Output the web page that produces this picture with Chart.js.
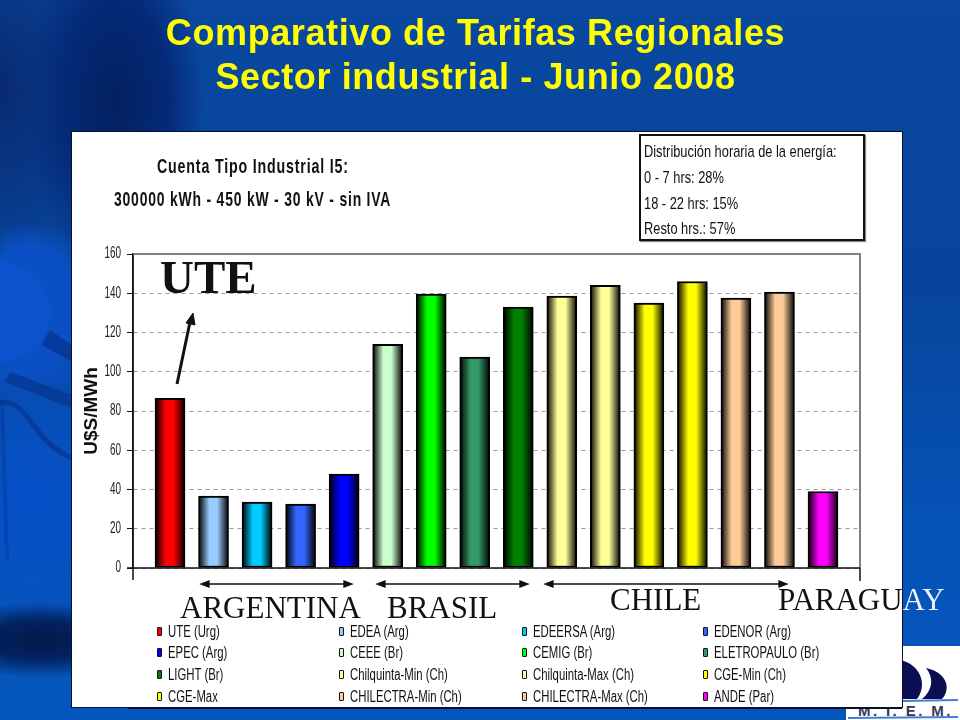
<!DOCTYPE html>
<html lang="es">
<head>
<meta charset="utf-8">
<title>Comparativo de Tarifas Regionales</title>
<script src="https://cdn.jsdelivr.net/npm/chart.js@4/dist/chart.umd.min.js"></script>
<style>
    html, body { margin: 0; padding: 0; }
    body { width: 960px; height: 720px; overflow: hidden; position: relative; background-color: #0a4aa6;
        background-image:
            radial-gradient(ellipse 70px 90px at 30px 310px, #0a4fc4 0%, #0a4fc4 70%, rgba(10,79,196,0) 100%),
            radial-gradient(ellipse 110px 38px at 40px 640px, #031a4a 0%, #03225f 50%, rgba(3,34,95,0) 100%),
            radial-gradient(ellipse 90px 170px at 115px 100px, #03215f 0%, #042a78 60%, rgba(4,42,120,0) 100%),
            radial-gradient(ellipse 150px 160px at 30px 500px, #0650c8 0%, rgba(6,80,200,0) 100%),
            radial-gradient(ellipse 120px 200px at 0px 90px, #082a70 0%, rgba(8,42,112,0) 100%),
            linear-gradient(180deg, #0a48a0 0%, #07459c 40%, #0554b8 75%, #0556bc 100%);
    }
    #decor { position: absolute; left: 0; top: 0; }
    #panel { position: absolute; left: 71px; top: 131px; width: 830px; height: 575px; background: #fff; border: 1px solid #04102c; }
    #panelBase { position: absolute; left: 128px; top: 705px; width: 774px; height: 3px; background: #fff; border-bottom: 1px solid #04102c; }
    #chartCanvas { position: absolute; left: 0; top: 0; }
    #overlay { position: absolute; left: 0; top: 0; }
    .titulo { position: absolute; left: 0; width: 951px; text-align: center; color: #ffff00;
        font: bold 36px "Liberation Sans", Arial, sans-serif; letter-spacing: 0.6px; white-space: nowrap; }
    .sub { position: absolute; font: bold 21px "Liberation Sans", sans-serif; color: #111; white-space: nowrap; letter-spacing: 1.2px; transform-origin: left center; }
    #caja { position: absolute; left: 639px; top: 134px; width: 222px; height: 103px; border: 2px solid #111; background: #fff; box-shadow: 1px 1px 1px #888; }
    #caja div { position: absolute; left: 3px; font: 17px "Liberation Sans", sans-serif; color: #111; white-space: nowrap; transform: scaleX(0.755); transform-origin: left center; }
    .serif { position: absolute; font-family: "Liberation Serif", "Times New Roman", serif; color: #111; white-space: nowrap; line-height: 1; }
    .leyenda { position: absolute; font: 16px "Liberation Sans", sans-serif; color: #111; white-space: nowrap; line-height: 16px; transform: scaleX(0.71); transform-origin: left center; }
    .muestra { position: absolute; width: 3px; height: 7px; border: 1.5px solid #111; border-radius: 1px; }
</style>
</head>
<body>
<svg id="decor" width="960" height="720">
    <!-- sol de fondo, a la izquierda -->
    <circle cx="0" cy="312" r="50" fill="#0b55d0" opacity="0.7"/>
    <path d="M50 330 L72 345 L72 362 L42 345 Z" fill="#06297c" opacity="0.55"/>
    <path d="M10 372 L72 395 L72 408 L5 382 Z" fill="#06297c" opacity="0.5"/>
    <path d="M0 402 C30 400 30 440 72 458" fill="none" stroke="#06297c" stroke-width="5" opacity="0.5"/>
    <path d="M48 270 L72 262 L72 290 L50 296 Z" fill="#0a4fc4" opacity="0.7"/>
    <path d="M2 400 L7 560" fill="none" stroke="#06318f" stroke-width="4" opacity="0.35"/>
    <!-- logo M.I.E.M. -->
    <rect x="846" y="646" width="114" height="74" fill="#fff"/>
    <path d="M900 660 C920 664 928 684 917 699 L900 699 Z" fill="#0b0f52"/>
    <path d="M926 668 C946 672 952 688 942 699 L922 699 C933 690 934 678 926 668 Z" fill="#0b0f52"/>
    <path d="M902 701 L958 700" stroke="#3f7fd8" stroke-width="2"/>
    <text x="858" y="716" font-family="Liberation Sans" font-weight="bold" font-size="15" letter-spacing="2.4" fill="#333a55">M. I. E. M.</text>
    <path d="M848 718 L958 717" stroke="#3f7fd8" stroke-width="2"/>
</svg>
<div id="panelBase"></div>
<div id="panel"></div>
<canvas id="chartCanvas" width="960" height="720"></canvas>
<div id="overlay"></div>

<script>
// Datos
const categorias = ['UTE (Urg)', 'EDEA (Arg)', 'EDEERSA (Arg)', 'EDENOR (Arg)', 'EPEC (Arg)', 'CEEE (Br)', 'CEMIG (Br)', 'ELETROPAULO (Br)',
    'LIGHT (Br)', 'Chilquinta-Min (Ch)', 'Chilquinta-Max (Ch)', 'CGE-Min (Ch)', 'CGE-Max', 'CHILECTRA-Min (Ch)', 'CHILECTRA-Max (Ch)', 'ANDE (Par)'];
const tarifas = [86.4, 36.7, 33.6, 32.6, 47.9, 114, 139.6, 107.5, 133, 138.6, 144, 135, 146, 137.6, 140.6, 39];
const colores = ['#ff0000', '#99ccff', '#00ccff', '#3366ff', '#0000ff', '#ccffcc', '#00ff00', '#339966',
    '#008000', '#ffff99', '#ffff99', '#ffff00', '#ffff00', '#ffcc99', '#ffcc99', '#ff00ff'];
const yTicks = [0, 20, 40, 60, 80, 100, 120, 140, 160];
const titulos = ['Comparativo de Tarifas Regionales', 'Sector industrial - Junio 2008'];
const cuenta = ['Cuenta Tipo Industrial I5:', '300000 kWh - 450 kW - 30 kV - sin IVA'];
const distribucion = ['Distribución horaria de la energía:', '0 - 7 hrs: 28%', '18 - 22 hrs: 15%', 'Resto hrs.: 57%'];
const anchoBarra = 30;

function gradienteBarra(ctx) {
    const chart = ctx.chart;
    const c = colores[ctx.dataIndex];
    const cx = chart.scales.x ? chart.scales.x.getPixelForValue(ctx.dataIndex) : NaN;
    if (!Number.isFinite(cx)) return c; // todavia sin layout
    const g = chart.ctx.createLinearGradient(cx - anchoBarra / 2, 0, cx + anchoBarra / 2, 0);
    g.addColorStop(0, '#000');
    g.addColorStop(0.36, c);
    g.addColorStop(0.62, c);
    g.addColorStop(1, '#000');
    return g;
}

// Ejes: marco gris arriba y a la derecha, base negra con marcas en los extremos
const marcoPlugin = {
    id: 'marco',
    afterDatasetsDraw(chart) {
        const { ctx, chartArea: a } = chart;
        ctx.save();
        ctx.strokeStyle = '#808080';
        ctx.lineWidth = 2;
        ctx.beginPath();
        ctx.moveTo(a.left, a.top);
        ctx.lineTo(a.right, a.top);
        ctx.lineTo(a.right, a.bottom);
        ctx.stroke();
        ctx.strokeStyle = '#111';
        ctx.lineWidth = 1.5;
        ctx.beginPath();
        ctx.moveTo(a.left - 6, a.bottom);
        ctx.lineTo(a.right, a.bottom);
        ctx.moveTo(a.left, a.top);
        ctx.lineTo(a.left, a.bottom + 12);
        ctx.moveTo(a.right, a.bottom);
        ctx.lineTo(a.right, a.bottom + 13);
        ctx.stroke();
        ctx.restore();
    }
};

// Etiquetas del eje Y comprimidas (no hay fuente estrecha instalada)
const ticksPlugin = {
    id: 'ticksEstrechos',
    afterDraw(chart) {
        const { ctx, scales: { y } } = chart;
        yTicks.forEach(v => {
            ctx.save();
            ctx.translate(121, y.getPixelForValue(v));
            ctx.scale(0.62, 1);
            ctx.font = '16px "Liberation Sans"';
            ctx.fillStyle = '#222';
            ctx.textAlign = 'right';
            ctx.textBaseline = 'middle';
            ctx.fillText(String(v), 0, 0);
            ctx.restore();
        });
    }
};

new Chart(document.getElementById('chartCanvas'), {
    type: 'bar',
    data: {
        datasets: [{
            label: 'U$S/MWh',
            data: tarifas.map((v, i) => ({ x: i, y: v })),
            backgroundColor: gradienteBarra,
            borderColor: '#000',
            borderWidth: 2,
            borderSkipped: false,
            barThickness: anchoBarra
        }]
    },
    options: {
        responsive: false,
        animation: false,
        layout: { padding: { left: 80, top: 254, right: 100, bottom: 152 } },
        plugins: { legend: { display: false }, tooltip: { enabled: false }, title: { display: false } },
        scales: {
            x: { type: 'linear', min: -0.85, max: 15.85, offset: false, display: false },
            y: {
                min: 0,
                max: 160,
                afterBuildTicks(scale) { scale.ticks = yTicks.map(v => ({ value: v })); },
                afterFit(scale) { scale.width = 53; },
                border: { display: true, color: '#111', width: 1.5, dash: [4, 4] },
                grid: { color: '#999', drawTicks: true, tickLength: 6, tickColor: '#111', tickBorderDash: [] },
                ticks: { display: false },
                title: { display: true, text: 'U$S/MWh', color: '#111', padding: 0, font: { family: '"Liberation Sans"', size: 19, weight: 'bold' } }
            }
        }
    },
    plugins: [marcoPlugin, ticksPlugin]
});

// Textos fuera del grafico
const overlay = document.getElementById('overlay');

function addText(cls, txt, left, top, extra) {
    const el = document.createElement('div');
    el.className = cls;
    el.textContent = txt;
    el.style.left = left + 'px';
    el.style.top = top + 'px';
    if (extra) Object.assign(el.style, extra);
    overlay.appendChild(el);
    return el;
}

addText('titulo', titulos[0], 0, 12);
addText('titulo', titulos[1], 0, 56);
addText('sub', cuenta[0], 157, 154, { transform: 'scaleX(0.678)' });
addText('sub', cuenta[1], 114, 187, { transform: 'scaleX(0.664)' });

const caja = document.createElement('div');
caja.id = 'caja';
[6, 32, 58, 83].forEach((top, i) => {
    const d = document.createElement('div');
    d.textContent = distribucion[i];
    d.style.top = top + 'px';
    caja.appendChild(d);
});
overlay.appendChild(caja);

addText('serif', 'UTE', 160, 254, { fontSize: '47px', fontWeight: 'bold' });
addText('serif', 'ARGENTINA', 180, 592, { fontSize: '31px' });
addText('serif', 'BRASIL', 387, 592, { fontSize: '31px' });
addText('serif', 'CHILE', 610, 584, { fontSize: '31px' });
// PARAGUAY se sale del panel: oscuro sobre blanco, claro sobre el fondo azul
addText('serif', 'PARAGUAY', 778, 584, {
    fontSize: '31px',
    color: 'transparent',
    background: 'linear-gradient(90deg, #111 124px, #f0f4ff 124px)',
    webkitBackgroundClip: 'text',
    backgroundClip: 'text'
});

// Leyenda: cuatro columnas, una fila por cada cuatro categorias
const legendX = [157, 339, 522, 703];
const legendY = [624, 645, 667, 689];
categorias.forEach((nombre, i) => {
    const x = legendX[i % 4];
    const y = legendY[Math.floor(i / 4)];
    addText('leyenda', nombre, x + 11, y);
    const sw = document.createElement('div');
    sw.className = 'muestra';
    sw.style.cssText = `left:${x}px;top:${y + 3}px;background:${colores[i]}`;
    overlay.appendChild(sw);
});

// Flechas
const NS = 'http://www.w3.org/2000/svg';
const flechas = document.createElementNS(NS, 'svg');
flechas.setAttribute('width', 960);
flechas.setAttribute('height', 720);
flechas.style.cssText = 'position:absolute;left:0;top:0';
flechas.innerHTML = `
    <path d="M177 384 L190 322" stroke="#111" stroke-width="3" fill="none"/>
    <path d="M193 313 L195 325 L186 323 Z" fill="#111" stroke="#111"/>
    <g stroke="#111" stroke-width="1.3" fill="#111">
        <path d="M205 584 L348 584 M381 584 L524 584 M549 584 L783 584" fill="none"/>
        <path d="M201 584 L209 581 L209 587 Z M352 584 L344 581 L344 587 Z"/>
        <path d="M377 584 L385 581 L385 587 Z M528 584 L520 581 L520 587 Z"/>
        <path d="M545 584 L553 581 L553 587 Z M787 584 L779 581 L779 587 Z"/>
    </g>`;
overlay.appendChild(flechas);
</script>
</body>
</html>
